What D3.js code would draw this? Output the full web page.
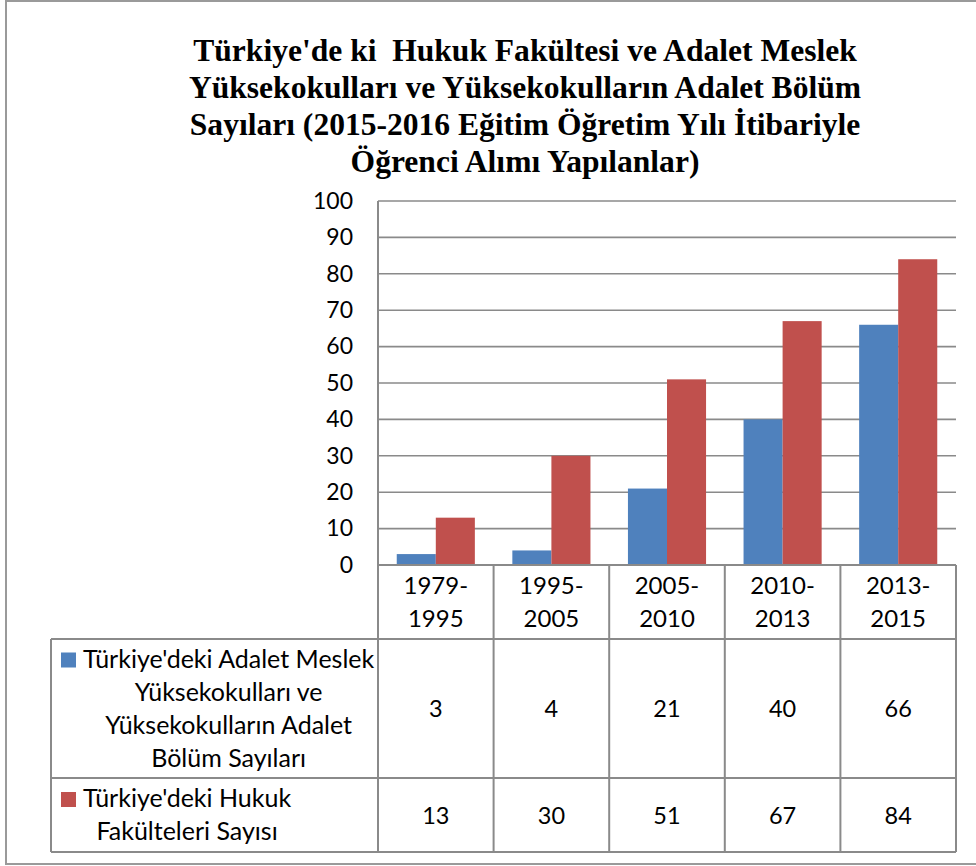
<!DOCTYPE html>
<html>
<head>
<meta charset="utf-8">
<script src="https://cdn.jsdelivr.net/npm/d3@7"></script>
<style>
  html, body { margin: 0; padding: 0; background: #fff; }
  svg { display: block; }
  text { white-space: pre; }
</style>
</head>
<body>
<svg id="chart" width="976" height="866"></svg>
<script>
// ---------- data ----------
const titleLines = [
  "Türkiye'de ki  Hukuk Fakültesi ve Adalet Meslek",
  "Yüksekokulları ve Yüksekokulların Adalet Bölüm",
  "Sayıları (2015-2016 Eğitim Öğretim Yılı İtibariyle",
  "Öğrenci Alımı Yapılanlar)"
];
const categories = ["1979-1995", "1995-2005", "2005-2010", "2010-2013", "2013-2015"];
const categoryLines = [["1979-", "1995"], ["1995-", "2005"], ["2005-", "2010"], ["2010-", "2013"], ["2013-", "2015"]];
const seriesNames = ["adalet", "hukuk"];
const seriesLabelLines = [
  ["Türkiye'deki Adalet Meslek", "Yüksekokulları ve", "Yüksekokulların Adalet", "Bölüm Sayıları"],
  ["Türkiye'deki Hukuk", "Fakülteleri Sayısı"]
];
const adaletValues = [3, 4, 21, 40, 66];
const hukukValues = [13, 30, 51, 67, 84];
const yTicks = [0, 10, 20, 30, 40, 50, 60, 70, 80, 90, 100];
const seriesColors = ["#4F81BD", "#C0504D"];

// ---------- layout ----------
const svg = d3.select("#chart");
const font = "Lato, 'Open Sans', sans-serif";
const lineColor = "#8a8a8a";
const plot = { left: 378, right: 956, top: 201, bottom: 565 };
const table = { left: 51, headerBottom: 639, row1Bottom: 778, row2Bottom: 852 };

// outer border
svg.append("rect")
  .attr("x", 6).attr("y", 1).attr("width", 990).attr("height", 863)
  .attr("fill", "none").attr("stroke", "#9a9a9a").attr("stroke-width", 2);

// title
const titleG = svg.append("g");
const titleBaselines = [61, 98, 135, 172];
const titleCx = 525;
const tTexts = titleG.selectAll("text").data(titleLines).join("text")
  .attr("x", 0).attr("y", (d, i) => titleBaselines[i])
  .attr("text-anchor", "middle")
  .attr("font-family", "'Liberation Serif', 'Times New Roman', serif")
  .attr("font-weight", "bold")
  .attr("font-size", 32)
  .attr("fill", "#000")
  .text(d => d);
const firstW = tTexts.node().getComputedTextLength();
const sx = 664 / firstW;
titleG.attr("transform", `translate(${titleCx},0) scale(${sx},1)`);

// scales
const x0 = d3.scaleBand().domain(categories).range([plot.left, plot.right]).padding(0);
const x1 = d3.scaleBand().domain(seriesNames).range([0, x0.bandwidth()]).paddingInner(0).paddingOuter(0.48);
const y = d3.scaleLinear().domain([0, 100]).range([plot.bottom, plot.top]);

// gridlines
svg.append("g").selectAll("line").data(yTicks.filter(t => t > 0)).join("line")
  .attr("x1", plot.left).attr("x2", plot.right)
  .attr("y1", d => y(d)).attr("y2", d => y(d))
  .attr("stroke", lineColor).attr("stroke-width", 1.6);

// y axis
const yAxis = d3.axisLeft(y).tickValues(yTicks).tickSize(0).tickPadding(25);
const yAxisG = svg.append("g").attr("transform", `translate(${plot.left},0)`).call(yAxis);
yAxisG.select(".domain").remove();
yAxisG.selectAll("text")
  .attr("font-family", font).attr("font-size", 23).attr("fill", "#000");

svg.append("line")
  .attr("x1", plot.left).attr("x2", plot.left)
  .attr("y1", plot.top).attr("y2", plot.bottom)
  .attr("stroke", lineColor).attr("stroke-width", 2);

// bars
const rows = categories.map((c, i) => ({ cat: c, values: [adaletValues[i], hukukValues[i]] }));
const barG = svg.append("g");
barG.selectAll("g").data(rows).join("g")
  .attr("transform", d => `translate(${x0(d.cat)},0)`)
  .selectAll("rect").data(d => d.values.map((v, j) => ({ s: seriesNames[j], v, j })))
  .join("rect")
  .attr("x", d => x1(d.s))
  .attr("width", x1.bandwidth())
  .attr("y", d => y(d.v))
  .attr("height", d => y(0) - y(d.v))
  .attr("fill", d => seriesColors[d.j]);

// ---------- data table ----------
const tg = svg.append("g").attr("stroke", lineColor).attr("stroke-width", 2);
tg.append("line").attr("x1", plot.left).attr("x2", plot.right).attr("y1", plot.bottom).attr("y2", plot.bottom);
[table.headerBottom, table.row1Bottom, table.row2Bottom].forEach(yy => {
  tg.append("line").attr("x1", table.left).attr("x2", plot.right).attr("y1", yy).attr("y2", yy);
});
const colEdges = categories.map(c => x0(c)).concat([plot.right]);
tg.selectAll("line.v").data(colEdges).join("line").attr("class", "v")
  .attr("x1", d => d).attr("x2", d => d)
  .attr("y1", plot.bottom).attr("y2", table.row2Bottom);
tg.append("line").attr("x1", table.left).attr("x2", table.left)
  .attr("y1", table.headerBottom).attr("y2", table.row2Bottom);

// header labels
const lineH = 33;
const headerMid = (plot.bottom + table.headerBottom) / 2;
categories.forEach((c, i) => {
  const lines = categoryLines[i];
  lines.forEach((ln, k) => {
    svg.append("text")
      .attr("x", x0(c) + x0.bandwidth() / 2)
      .attr("y", headerMid + (k - (lines.length - 1) / 2) * lineH + 8.5)
      .attr("text-anchor", "middle")
      .attr("font-family", font).attr("font-size", 24).attr("fill", "#000")
      .text(ln);
  });
});

// value rows
const rowBounds = [[table.headerBottom, table.row1Bottom], [table.row1Bottom, table.row2Bottom]];
const seriesValues = [adaletValues, hukukValues];
seriesValues.forEach((vals, si) => {
  const mid = (rowBounds[si][0] + rowBounds[si][1]) / 2;
  svg.append("g").selectAll("text").data(vals).join("text")
    .attr("x", (d, i) => x0(categories[i]) + x0.bandwidth() / 2)
    .attr("y", mid + 8.5)
    .attr("text-anchor", "middle")
    .attr("font-family", font).attr("font-size", 23.5).attr("fill", "#000")
    .text(d => d);
});

// legend cells
const keyX = 61, keySize = 15, textLeft = 83;
seriesLabelLines.forEach((lines, si) => {
  const mid = (rowBounds[si][0] + rowBounds[si][1]) / 2;
  const g = svg.append("g");
  const texts = g.selectAll("text").data(lines).join("text")
    .attr("y", (d, k) => mid + (k - (lines.length - 1) / 2) * lineH + 8.5)
    .attr("text-anchor", "middle")
    .attr("font-family", font).attr("font-size", 25).attr("fill", "#000")
    .text(d => d);
  let maxW = 0;
  texts.each(function () { maxW = Math.max(maxW, this.getComputedTextLength()); });
  texts.attr("x", textLeft + maxW / 2);
  const firstBase = mid - (lines.length - 1) / 2 * lineH + 8.5;
  g.append("rect")
    .attr("x", keyX).attr("y", firstBase - keySize)
    .attr("width", keySize).attr("height", keySize)
    .attr("fill", seriesColors[si]);
});
</script>
</body>
</html>
